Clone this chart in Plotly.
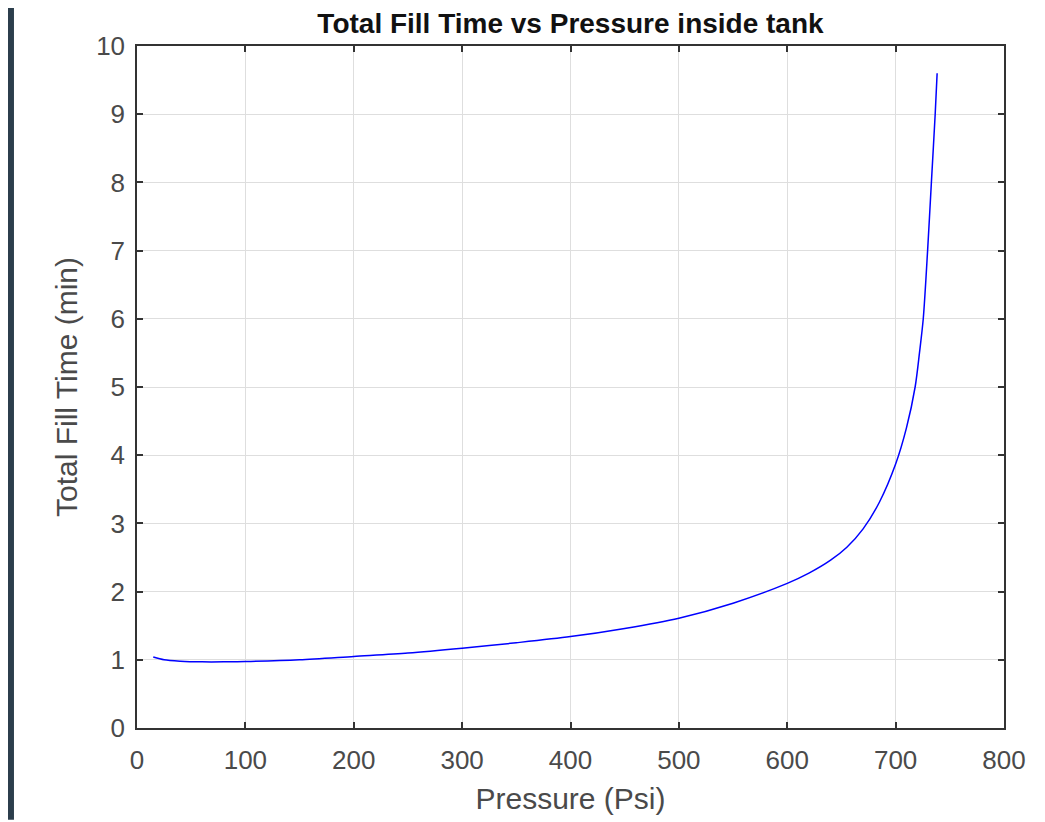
import plotly.graph_objects as go

# pressure inside tank (psi) and total fill time (min)
pressure = [15, 25, 40, 60, 80, 100, 150, 200, 250, 300, 350, 400, 450, 500,
            550, 600, 620, 640, 655, 670, 685, 700, 710, 718, 722, 725.5, 729.5,
            733, 736.5, 738.3]
fill_time = [1.04, 1.00, 0.98, 0.97, 0.97, 0.975, 1.0, 1.05, 1.10, 1.17, 1.25,
             1.34, 1.46, 1.61, 1.83, 2.12, 2.27, 2.46, 2.65, 2.92, 3.31, 3.87, 4.4,
             5.0, 5.5, 6.0, 7.0, 8.0, 9.0, 9.6]

x_ticks = [0, 100, 200, 300, 400, 500, 600, 700, 800]
y_ticks = [0, 1, 2, 3, 4, 5, 6, 7, 8, 9, 10]

fig = go.Figure()
fig.add_trace(go.Scatter(x=pressure, y=fill_time, mode='lines',
                         line=dict(color='#0000ff', width=1.5, shape='spline', smoothing=0.8),
                         showlegend=False))

axis_style = dict(showline=True, linecolor='#333333', linewidth=1.5, mirror='ticks',
                  ticks='inside', ticklen=6, tickcolor='#333333', tickwidth=1.5,
                  showgrid=True, gridcolor='#dedede', gridwidth=1, zeroline=False,
                  tickfont=dict(size=26, color='#4a4a4a'))

fig.update_xaxes(range=[0, 800], tickvals=x_ticks, ticklabelstandoff=8,
                 title=dict(text='Pressure (Psi)', font=dict(size=30, color='#4a4a4a'), standoff=14),
                 **axis_style)
fig.update_yaxes(range=[0, 10], tickvals=y_ticks, ticklabelstandoff=5,
                 title=dict(text='Total Fill Time (min)', font=dict(size=30, color='#4a4a4a'), standoff=10),
                 **axis_style)

# dark strip on the left edge of the screenshot (page has an 8px body margin)
fig.add_shape(type='rect', xref='paper', yref='paper', x0=-0.1488, x1=-0.1419,
              y0=-0.1345, y1=1.0556, fillcolor='#2c3e4c', line=dict(width=0), layer='below')

fig.update_layout(
    width=1037, height=814,
    margin=dict(l=129, r=41, t=38, b=92),
    paper_bgcolor='white', plot_bgcolor='white',
    font=dict(family='Liberation Sans, Arial, sans-serif'),
    title=dict(text='<b>Total Fill Time vs Pressure inside tank</b>', x=0.5, xref='paper',
               y=1 - 5 / 814, yref='container', yanchor='top',
               font=dict(size=28, color='#111111')),
)

fig.write_html("out.html")
